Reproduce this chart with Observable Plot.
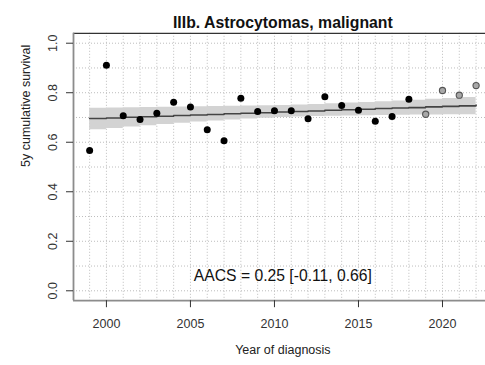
<!DOCTYPE html>
<html>
<head>
<meta charset="utf-8">
<script src="https://cdn.jsdelivr.net/npm/d3@7"></script>
<script src="https://cdn.jsdelivr.net/npm/@observablehq/plot@0.6"></script>
<style>
  html, body { margin: 0; padding: 0; background: #fff; overflow: hidden; }
  svg { font-family: "Liberation Sans", Arial, sans-serif; display: block; }
</style>
</head>
<body>
<div id="chart"></div>
<script>
// Year of diagnosis
const years = [1999, 2000, 2001, 2002, 2003, 2004, 2005, 2006, 2007, 2008, 2009, 2010,
               2011, 2012, 2013, 2014, 2015, 2016, 2017, 2018, 2019, 2020, 2021, 2022];
// Observed 5-year cumulative survival per year
const survival = [0.567, 0.911, 0.707, 0.692, 0.717, 0.762, 0.742, 0.650, 0.606, 0.778, 0.724, 0.727,
                  0.727, 0.695, 0.784, 0.748, 0.729, 0.685, 0.704, 0.774, 0.713, 0.809, 0.790, 0.829];
// Years from this one onwards are provisional estimates
const firstProvisionalYear = 2019;
// Fitted trend and its confidence band
const trend = [0.696, 0.698, 0.701, 0.703, 0.705, 0.708, 0.710, 0.712, 0.715, 0.717, 0.719, 0.722,
               0.724, 0.726, 0.729, 0.731, 0.733, 0.736, 0.738, 0.740, 0.743, 0.745, 0.747, 0.750];
const lower = [0.650, 0.656, 0.662, 0.667, 0.672, 0.677, 0.682, 0.686, 0.690, 0.694, 0.697, 0.700,
               0.702, 0.704, 0.705, 0.706, 0.707, 0.708, 0.709, 0.710, 0.710, 0.711, 0.711, 0.712];
const upper = [0.737, 0.738, 0.739, 0.740, 0.741, 0.742, 0.743, 0.744, 0.745, 0.746, 0.747, 0.748,
               0.750, 0.752, 0.755, 0.758, 0.761, 0.764, 0.767, 0.770, 0.774, 0.777, 0.781, 0.785];

const xTicks = [2000, 2005, 2010, 2015, 2020];
const yTicks = [0, 0.2, 0.4, 0.6, 0.8, 1.0];
const yGrid = [0, 0.1, 0.2, 0.3, 0.4, 0.5, 0.6, 0.7, 0.8, 0.9, 1.0];

const titleText = "IIIb. Astrocytomas, malignant";
const aacsText = "AACS = 0.25 [-0.11, 0.66]";
const xLabel = "Year of diagnosis";
const yLabel = "5y cumulative survival";

const rows = years.map((year, i) => ({
  year, survival: survival[i], trend: trend[i], lower: lower[i], upper: upper[i],
  provisional: year >= firstProvisionalYear
}));

const xDomain = [1998.04, 2022.56];
const yDomain = [-0.04, 1.04];
const xMid = (years[0] + years[years.length - 1]) / 2;

const chart = Plot.plot({
  width: 485,
  height: 365,
  marginLeft: 73,
  marginRight: 0,
  marginTop: 32.8,
  marginBottom: 64.8,
  x: { domain: xDomain },
  y: { domain: yDomain },
  style: { fontFamily: "'Liberation Sans', Arial, sans-serif", background: "#fff", overflow: "visible" },
  marks: [
    // dotted grid
    Plot.ruleX(years, { stroke: "#bdbdbd", strokeWidth: 1, strokeDasharray: "1,2" }),
    Plot.ruleY(yGrid, { stroke: "#bdbdbd", strokeWidth: 1, strokeDasharray: "1,2" }),
    // confidence band and trend
    Plot.areaY(rows, { x: "year", y1: "lower", y2: "upper", curve: "step-after", fill: "#d3d3d3" }),
    Plot.lineY(rows, { x: "year", y: "trend", curve: "step-after", stroke: "#444", strokeWidth: 1.6 }),
    // observed values
    Plot.dot(rows.filter(d => !d.provisional), { x: "year", y: "survival", r: 3.5, fill: "#000", stroke: "none" }),
    Plot.dot(rows.filter(d => d.provisional), { x: "year", y: "survival", r: 3.1, fill: "#a8a8a8", stroke: "#555", strokeWidth: 1.1 }),
    // plot box
    Plot.ruleY([yDomain[1]], { stroke: "#333", strokeWidth: 1.3 }),
    Plot.ruleX([xDomain[0]], { stroke: "#8c8c8c", strokeWidth: 1.8 }),
    Plot.ruleY([yDomain[0]], { stroke: "#8c8c8c", strokeWidth: 1.8 }),
    // axes
    Plot.axisX(xTicks, { tickSize: 7, tickPadding: 11, fontSize: 12.5, color: "#333", label: null, tickFormat: d3.format("d") }),
    Plot.axisY(yTicks, { tickSize: 7, tickPadding: 0, fontSize: 12.5, color: "#333", label: null, tickFormat: () => "" }),
    Plot.text(yTicks, { y: d => d, text: d3.format(".1f"), frameAnchor: "left", dx: -21, rotate: -90,
                        fontSize: 12.5, fill: "#333", textAnchor: "middle" }),
    // annotation and titles
    Plot.text([aacsText], { x: () => xMid, text: d => d, frameAnchor: "bottom", dy: -19.5, fontSize: 15.7, fill: "#111" }),
    Plot.text([titleText], { x: () => xMid, text: d => d, frameAnchor: "top", dy: -16.5, fontSize: 15.8, fontWeight: "bold", fill: "#111" }),
    Plot.text([xLabel], { x: () => xMid, text: d => d, frameAnchor: "bottom", dy: 53.5, fontSize: 12.5, fill: "#222" }),
    Plot.text([yLabel], { y: () => 0.5, text: d => d, frameAnchor: "left", dx: -48, rotate: -90, fontSize: 12.5, fill: "#222" })
  ]
});

document.getElementById("chart").append(chart);
</script>
</body>
</html>
